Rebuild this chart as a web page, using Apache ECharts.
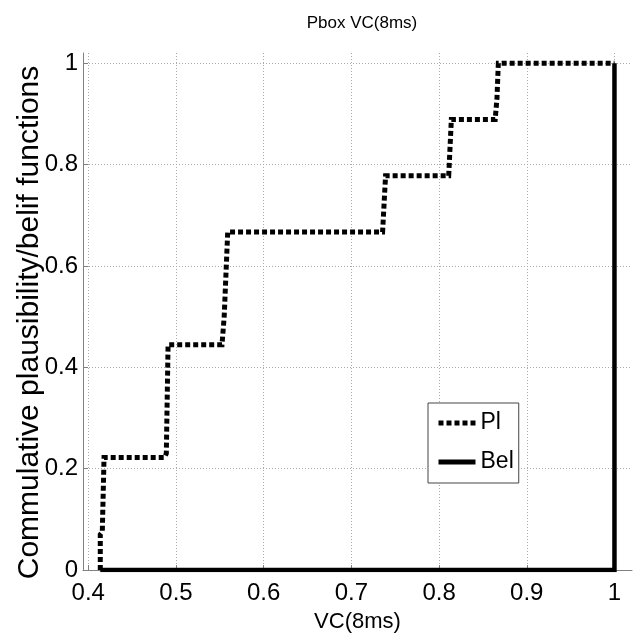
<!DOCTYPE html>
<html>
<head>
<meta charset="utf-8">
<script src="https://cdn.jsdelivr.net/npm/echarts@6/dist/echarts.min.js"></script>
<style>html,body{margin:0;padding:0;background:#fff;}#c{width:637px;height:640px;}</style>
</head>
<body>
<div id="c"></div>
<script>
const xTicks = [0.4, 0.5, 0.6, 0.7, 0.8, 0.9, 1.0];
const yTicks = [0, 0.2, 0.4, 0.6, 0.8, 1.0];
const plX = [0.4137, 0.4137, 0.416, 0.418, 0.487, 0.489, 0.491, 0.5525, 0.555, 0.559, 0.7356, 0.739, 0.811, 0.814, 0.864, 0.866, 0.8676, 1.0];
const plY = [0, 0.07, 0.075, 0.2222, 0.2222, 0.23, 0.4444, 0.4444, 0.5, 0.6667, 0.6667, 0.7778, 0.7778, 0.8889, 0.8889, 0.93, 1.0, 1.0];
const belX = [0.4137, 1.0, 1.0];
const belY = [0, 0, 1.0];

const FONT = 'Liberation Sans';
const fmt = v => (Math.abs(v - 1) < 1e-9 ? '1' : (Math.abs(v) < 1e-9 ? '0' : String(+v.toFixed(1))));

const chart = echarts.init(document.getElementById('c'));
chart.setOption({
  animation: false,
  backgroundColor: '#fff',
  title: {
    text: 'Pbox VC(8ms)', left: 357, top: 10, textAlign: 'center',
    textStyle: { fontFamily: FONT, fontSize: 17, fontWeight: 'normal', color: '#000' }
  },
  grid: { left: 83, right: 5, top: 53, bottom: 70, containLabel: false, outerBoundsMode: 'none' },
  legend: {
    orient: 'vertical', left: 428, top: 403,
    padding: [8, 5, 9, 8], itemGap: 15, itemWidth: 37, itemHeight: 24,
    borderColor: '#444', borderWidth: 1, backgroundColor: '#fff',
    itemStyle: { opacity: 0 },
    textStyle: { fontFamily: FONT, fontSize: 23, lineHeight: 24, color: '#000', padding: [0, 0, 0, 0] },
    data: [
      { name: 'Pl', lineStyle: { width: 5, type: [5, 3], color: '#000' } },
      { name: 'Bel', lineStyle: { width: 5, type: 'solid', color: '#000' } }
    ]
  },
  xAxis: {
    type: 'value', min: 0.394, max: 1.02,
    name: 'VC(8ms)', nameLocation: 'middle', nameGap: 41, nameMoveOverlap: false,
    nameTextStyle: { fontFamily: FONT, fontSize: 22, color: '#000' },
    axisLine: { show: true, lineStyle: { color: '#808080', width: 1 } },
    axisTick: { show: true, inside: true, length: 5, customValues: xTicks, lineStyle: { color: '#808080' } },
    axisLabel: { customValues: xTicks, formatter: fmt, fontFamily: FONT, fontSize: 24, color: '#000', margin: 11 },
    splitLine: { show: true, lineStyle: { color: '#aaa', type: [1, 2], width: 1 } }
  },
  yAxis: {
    type: 'value', min: 0, max: 1.02,
    name: 'Commulative plausibility/belif functions', nameLocation: 'middle', nameGap: 38, nameMoveOverlap: false,
    nameTextStyle: { fontFamily: FONT, fontSize: 30, color: '#000', padding: [0, 22, 0, 0] },
    axisLine: { show: true, lineStyle: { color: '#808080', width: 1 } },
    axisTick: { show: true, inside: true, length: 5, customValues: yTicks, lineStyle: { color: '#808080' } },
    axisLabel: { customValues: yTicks, formatter: fmt, fontFamily: FONT, fontSize: 24, color: '#000', margin: 5 },
    splitLine: { show: true, lineStyle: { color: '#aaa', type: [1, 2], width: 1 } }
  },
  series: [
    {
      name: 'Pl', type: 'line', showSymbol: false, symbol: 'none', z: 3,
      data: plX.map((x, i) => [x, plY[i]]),
      lineStyle: { color: '#000', width: 5, type: [5, 3], cap: 'butt', join: 'miter' },
      itemStyle: { color: '#000' }
    },
    {
      name: 'Bel', type: 'line', showSymbol: false, symbol: 'none', z: 4,
      data: belX.map((x, i) => [x, belY[i]]),
      lineStyle: { color: '#000', width: 4.5, type: 'solid', cap: 'butt', join: 'miter' },
      itemStyle: { color: '#000' }
    }
  ]
});
</script>
</body>
</html>
